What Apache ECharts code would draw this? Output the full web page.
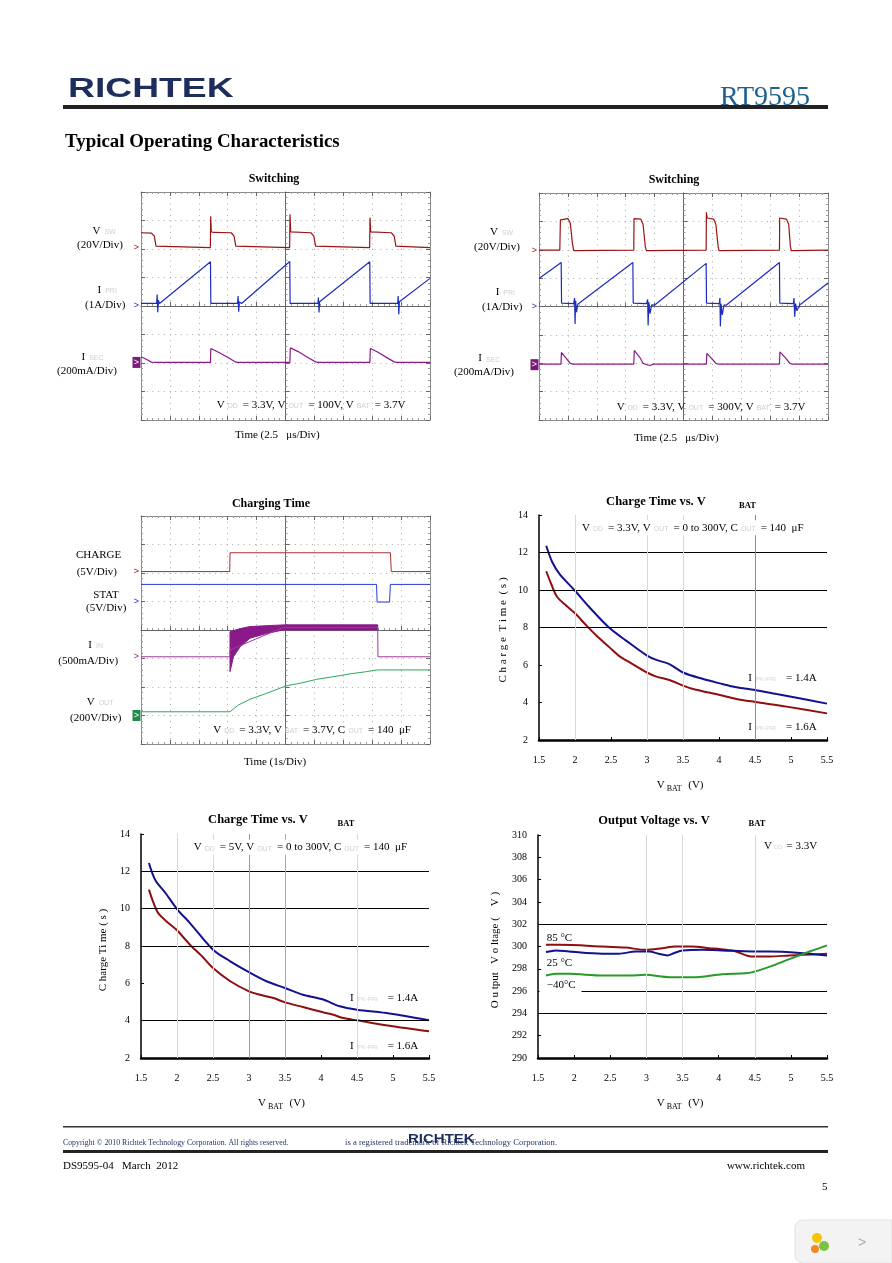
<!DOCTYPE html>
<html><head><meta charset="utf-8">
<script src="https://cdn.jsdelivr.net/npm/echarts@6.0.0/dist/echarts.min.js"></script>
<style>html,body{margin:0;padding:0;background:#fff}#c{width:892px;height:1263px}</style>
</head><body><div id="c"></div>
<script>
// ================= DATA =================
// Scope 1 "Switching" VOUT=100V : time in us (2.5us/div, centred), value in divisions
const sw1Vsw = [[-12.5,2.57],[-11.6,2.56],[-11.35,2.45],[-11.2,2.1],[-11.1,2.05],[-6.5,2.05],[-6.47,3.15],[-6.42,2.6],[-6.2,2.58],[-4.7,2.57],[-4.45,2.45],[-4.3,2.1],[-4.2,2.04],[0.36,2.05],[0.39,3.22],[0.45,2.6],[2.2,2.57],[2.45,2.45],[2.6,2.1],[2.72,2.04],[7.28,2.05],[7.31,3.1],[7.37,2.6],[9.15,2.57],[9.4,2.45],[9.55,2.1],[9.65,2.04],[12.5,2.05]];
const sw1Ipri = [[-12.5,0.09],[-11.15,0.09],[-11.1,0.4],[-11.05,-0.22],[-11.0,0.2],[-10.9,0.09],[-6.49,1.55],[-6.46,0.09],[-4.15,0.09],[-4.1,0.35],[-4.05,-0.2],[-4.0,0.15],[-3.8,0.09],[0.37,1.56],[0.4,0.09],[2.8,0.09],[2.85,0.3],[2.9,-0.23],[2.95,0.15],[3.05,0.09],[7.29,1.55],[7.32,0.09],[9.7,0.09],[9.75,0.35],[9.8,-0.29],[9.85,0.15],[10.0,0.09],[12.5,0.97]];
const sw1Isec = [[-12.5,-1.78],[-12.0,-1.88],[-11.6,-1.97],[-11.2,-1.98],[-6.49,-1.98],[-6.46,-1.49],[-5.8,-1.62],[-5.0,-1.8],[-4.4,-1.95],[-4.2,-1.98],[0.38,-1.98],[0.42,-1.47],[1.1,-1.6],[1.9,-1.8],[2.6,-1.96],[2.8,-1.98],[7.3,-1.98],[7.34,-1.49],[8.0,-1.62],[8.8,-1.82],[9.4,-1.96],[9.6,-1.98],[12.5,-1.98]];
const sw1Refs = [2.05, 0.0, -1.98];
// Scope 2 "Switching" VOUT=300V
const sw2Vsw = [[-12.5,1.99],[-10.7,1.99],[-10.65,3.05],[-10.5,3.12],[-10.0,3.1],[-9.8,2.95],[-9.6,2.2],[-9.5,1.97],[-4.3,1.99],[-4.28,3.1],[-3.7,3.08],[-3.5,2.9],[-3.3,2.1],[-3.21,1.97],[1.96,1.99],[1.98,3.32],[2.05,3.12],[2.6,3.08],[2.8,2.9],[3.0,2.1],[3.07,1.97],[8.3,1.99],[8.32,3.12],[8.9,3.08],[9.1,2.9],[9.25,2.1],[9.33,1.97],[12.5,1.99]];
const sw2Ipri = [[-12.5,0.99],[-10.58,1.55],[-10.55,0.12],[-9.5,0.1],[-9.42,0.3],[-9.38,-0.62],[-9.33,0.2],[-9.25,-0.2],[-9.15,0.08],[-8.98,0.05],[-4.38,1.55],[-4.35,0.12],[-3.2,0.1],[-3.1,0.25],[-3.06,-0.67],[-3.0,0.15],[-2.9,-0.25],[-2.75,0.06],[-2.49,0.05],[1.96,1.52],[1.99,0.12],[3.1,0.1],[3.15,0.3],[3.19,-0.7],[3.25,0.1],[3.35,-0.3],[3.5,0.05],[3.71,0.05],[8.3,1.55],[8.33,0.12],[9.5,0.1],[9.56,0.3],[9.62,-0.36],[9.7,0.1],[9.8,-0.15],[10.05,0.05],[12.5,0.83]];
const sw2Isec = [[-12.5,-2.03],[-10.6,-2.03],[-10.56,-1.62],[-10.2,-1.8],[-9.8,-2.0],[-9.6,-2.03],[-4.3,-2.03],[-4.26,-1.55],[-3.8,-1.78],[-3.5,-2.0],[-3.2,-2.05],[-2.9,-2.08],[-2.6,-2.03],[1.98,-2.03],[2.02,-1.65],[2.4,-1.82],[2.8,-2.0],[3.0,-2.03],[8.3,-2.03],[8.34,-1.6],[8.8,-1.8],[9.2,-2.0],[9.4,-2.03],[12.5,-2.03]];
const sw2Refs = [1.99, 0.0, -2.05];
// Charging Time scope: time in s (1 s/div, centred), value in divisions
const chgCharge = [[-5,2.05],[-1.93,2.05],[-1.92,2.71],[3.63,2.71],[3.66,2.05],[5,2.05]];
const chgStat = [[-5,1.6],[3.15,1.6],[3.17,0.98],[3.6,0.98],[3.63,1.6],[5,1.6]];
const chgIinLine = [[-5,-0.94],[-1.92,-0.94],[-1.92,-0.7],[-0.08,0.09],[3.19,0.09],[3.2,-0.94],[5,-0.94]];
const chgIinUpper = [[-1.92,-0.06],[-1.6,0.04],[-1.23,0.12],[-0.5,0.16],[0,0.18],[3.19,0.18]];
const chgIinLower = [[-1.92,-1.46],[-1.8,-0.94],[-1.57,-0.59],[-1.23,-0.29],[-0.65,-0.12],[-0.08,0.0],[3.19,0.0]];
const chgVout = [[-5,-2.87],[-1.92,-2.87],[-1.63,-2.63],[-1.23,-2.43],[-0.65,-2.22],[0.02,-1.96],[0.5,-1.87],[1.08,-1.73],[1.65,-1.64],[2.23,-1.54],[2.81,-1.46],[3.19,-1.4],[5,-1.4]];
const chgRefs = [2.05, 1.0, -0.94, -3.0];
// Charge Time vs VBAT (VDD=3.3V) : [VBAT (V), time (s)]
const ctA14 = [[1.6,12.36],[1.685,11.48],[1.787,10.85],[2.0,9.96],[2.2,9.08],[2.48,7.97],[2.71,7.3],[3.0,6.5],[3.13,6.27],[3.31,6.05],[3.5,5.6],[3.78,5.25],[4.01,5.02],[4.24,4.81],[4.5,4.67],[4.8,4.45],[5.17,4.19],[5.5,3.94]];
const ctA16 = [[1.6,11.0],[1.67,10.32],[1.75,9.64],[1.88,9.16],[2.0,8.76],[2.16,8.1],[2.3,7.56],[2.48,6.94],[2.62,6.46],[2.76,6.14],[3.0,5.6],[3.13,5.38],[3.31,5.2],[3.5,4.9],[3.64,4.72],[4.01,4.4],[4.24,4.19],[4.5,4.03],[4.94,3.78],[5.5,3.42]];
const ctAHLines = [8, 10, 12];
const ctAVLines = [2, 3, 3.5, 4.5];
// Charge Time vs VBAT (VDD=5V)
const ctB14 = [[1.61,12.45],[1.7,11.52],[1.84,10.84],[2.0,9.98],[2.18,9.23],[2.5,7.8],[2.74,7.18],[3.0,6.6],[3.25,6.1],[3.5,5.75],[3.75,5.39],[4.03,5.13],[4.26,4.77],[4.5,4.59],[4.95,4.38],[5.5,4.02]];
const ctB16 = [[1.61,11.02],[1.675,10.3],[1.745,9.73],[1.88,9.23],[2.0,8.84],[2.18,8.07],[2.37,7.36],[2.5,6.82],[2.74,6.11],[3.0,5.57],[3.15,5.39],[3.34,5.21],[3.5,4.98],[3.75,4.73],[4.03,4.45],[4.17,4.32],[4.31,4.14],[4.5,4.02],[4.95,3.73],[5.5,3.43]];
const ctBHLines = [4, 8, 10, 12];
const ctBVLines = [2, 2.5, 3, 3.5, 4.5];
// Output Voltage vs VBAT : [VBAT (V), VOUT (V)]
const ov85 = [[1.61,300.15],[1.79,300.15],[2.39,300.0],[2.71,299.9],[2.99,299.7],[3.22,299.85],[3.4,300.0],[3.63,300.0],[3.87,299.85],[4.1,299.7],[4.24,299.55],[4.45,299.1],[4.71,299.1],[4.98,299.2],[5.16,299.25],[5.5,299.35]];
const ov25 = [[1.61,299.5],[1.75,299.65],[1.93,299.55],[2.39,299.35],[2.62,299.35],[2.85,299.55],[3.04,299.55],[3.17,299.35],[3.29,299.2],[3.38,299.4],[3.5,299.65],[3.78,299.7],[4.05,299.65],[4.47,299.55],[4.71,299.55],[5.17,299.4],[5.5,299.2]];
const ovM40 = [[1.61,297.4],[1.75,297.55],[1.93,297.55],[2.39,297.4],[2.76,297.4],[2.99,297.46],[3.32,297.25],[3.69,297.25],[4.05,297.52],[4.37,297.6],[4.47,297.7],[4.71,298.2],[4.98,298.87],[5.26,299.55],[5.5,300.1]];
const ovHLines = [294, 296, 302];
const ovVLines = [3, 3.5, 4.5];

// ================= STYLE / LAYOUT =================
const SERIF = '"Liberation Serif","Times New Roman",serif';
const SANS = '"Liberation Sans",Arial,sans-serif';
const RED = '#9a1414', BLUE = '#1c2cc0', PURPLE = '#8a1a8a', GREEN = '#1f9a55';
const XRED = '#8e0f0f', XBLUE = '#12128e', XGREEN = '#279a27';
const ctAVShades = ['#d8d8d8','#d8d8d8','#d8d8d8','#8a8a8a'];
const ctBVShades = ['#d8d8d8','#d8d8d8','#9a9a9a','#aaaaaa','#d8d8d8'];
const ovVShades = ['#d8d8d8','#d8d8d8','#d8d8d8'];

const grids = [
  {left:141, top:192, width:289, height:228},
  {left:539, top:193, width:289, height:227},
  {left:141, top:516, width:289, height:228},
  {left:539, top:515, width:288, height:225},
  {left:141, top:834, width:288, height:224},
  {left:538, top:835, width:289, height:223}
];
const xAxes = [], yAxes = [], series = [];

function scopeAxes(g, xr, xint, yr) {
  const GRAY = '#8c8c8c';
  const xi = xAxes.length, yi = yAxes.length;
  const base = (mn, mx, iv) => ({type:'value', gridIndex:g, min:mn, max:mx, interval:iv, silent:true,
    axisLabel:{show:false}, splitLine:{show:false}, minorSplitLine:{show:false},
    axisTick:{show:true, inside:true, length:4, lineStyle:{color:'#666', width:1}},
    minorTick:{show:true, splitNumber:5, length:2, lineStyle:{color:'#9a9a9a', width:1}}});
  xAxes.push(Object.assign(base(xr[0],xr[1],xint), {position:'bottom', axisLine:{show:true,onZero:false,lineStyle:{color:GRAY}},
    splitLine:{show:true, lineStyle:{color:'#a8a8a8', width:1, type:[1,4.7]}}}));
  xAxes.push(Object.assign(base(xr[0],xr[1],xint), {position:'top', axisLine:{show:true,onZero:false,lineStyle:{color:GRAY}}}));
  xAxes.push(Object.assign(base(xr[0],xr[1],xint), {position:'bottom', axisLine:{show:true,onZero:true,onZeroAxisIndex:yi,lineStyle:{color:'#666'}}}));
  yAxes.push(Object.assign(base(yr[0],yr[1],1), {position:'left', axisLine:{show:true,onZero:false,lineStyle:{color:GRAY}},
    splitLine:{show:true, lineStyle:{color:'#a8a8a8', width:1, type:[1,4.7]}}}));
  yAxes.push(Object.assign(base(yr[0],yr[1],1), {position:'right', axisLine:{show:true,onZero:false,lineStyle:{color:GRAY}}}));
  yAxes.push(Object.assign(base(yr[0],yr[1],1), {position:'left', axisLine:{show:true,onZero:true,onZeroAxisIndex:xi,lineStyle:{color:'#666'}}}));
  return {xi, yi};
}
function xyAxes(g, yr, yint) {
  const xi = xAxes.length, yi = yAxes.length;
  xAxes.push({type:'value', gridIndex:g, min:1.5, max:5.5, interval:0.5, position:'bottom', silent:true,
    axisLine:{onZero:false, lineStyle:{color:'#000', width:2.5}},
    axisTick:{show:true, inside:true, length:3, lineStyle:{color:'#000', width:1}},
    axisLabel:{color:'#000', fontFamily:SERIF, fontSize:10, margin:15},
    splitLine:{show:false}});
  yAxes.push({type:'value', gridIndex:g, min:yr[0], max:yr[1], interval:yint, position:'left', silent:true,
    axisLine:{onZero:false, lineStyle:{color:'#000', width:1.5}},
    axisTick:{show:true, inside:true, length:3, lineStyle:{color:'#000'}},
    axisLabel:{color:'#000', fontFamily:SERIF, fontSize:10, margin:11},
    splitLine:{show:false}});
  return {xi, yi};
}
function line(ax, data, color, width, extra) {
  series.push(Object.assign({type:'line', xAxisIndex:ax.xi, yAxisIndex:ax.yi, data, symbol:'none', showSymbol:false,
    lineStyle:{color, width}, itemStyle:{color}, animation:false, silent:true, z:3}, extra || {}));
}
function gridLines(ax, hLines, vLines, vShades) {
  series.push({type:'line', xAxisIndex:ax.xi, yAxisIndex:ax.yi, data:[], symbol:'none', silent:true, animation:false, z:1,
    markLine:{silent:true, symbol:['none','none'], animation:false, label:{show:false},
      data: hLines.map(v => ({yAxis:v, lineStyle:{color:'#000', width:1, type:'solid'}}))
        .concat(vLines.map((v,i) => ({xAxis:v, lineStyle:{color:vShades[i], width:1, type:'solid'}})))}});
}

const s1 = scopeAxes(0, [-12.5,12.5], 2.5, [-4,4]);
const s2 = scopeAxes(1, [-12.5,12.5], 2.5, [-4,4]);
const s3 = scopeAxes(2, [-5,5], 1, [-4,4]);
const cA = xyAxes(3, [2,14], 2);
const cB = xyAxes(4, [2,14], 2);
const cO = xyAxes(5, [290,310], 2);

line(s1, sw1Vsw, RED, 1.2); line(s1, sw1Ipri, BLUE, 1.2); line(s1, sw1Isec, PURPLE, 1.2);
line(s2, sw2Vsw, RED, 1.2); line(s2, sw2Ipri, BLUE, 1.2); line(s2, sw2Isec, PURPLE, 1.2);
line(s3, chgCharge, '#a83030', 1); line(s3, chgStat, '#2a3ad0', 1);
series.push({type:'custom', xAxisIndex:s3.xi, yAxisIndex:s3.yi, data:[[0,0]], silent:true, animation:false, z:3,
  renderItem: (params, api) => {
    const pts = chgIinUpper.map(p => api.coord(p)).concat(chgIinLower.slice().reverse().map(p => api.coord(p)));
    return {type:'polygon', shape:{points:pts}, style:{fill:PURPLE, stroke:PURPLE, lineWidth:1}};
  }});
line(s3, chgIinLine, '#9a3a9a', 1); line(s3, chgVout, '#2aa860', 1);

gridLines(cA, ctAHLines, ctAVLines, ctAVShades);
line(cA, ctA14, XBLUE, 2, {smooth:0.3}); line(cA, ctA16, XRED, 2, {smooth:0.3});
gridLines(cB, ctBHLines, ctBVLines, ctBVShades);
line(cB, ctB14, XBLUE, 2, {smooth:0.3}); line(cB, ctB16, XRED, 2, {smooth:0.3});
gridLines(cO, ovHLines, ovVLines, ovVShades);
line(cO, ov85, XRED, 2, {smooth:0.3}); line(cO, ov25, XBLUE, 2, {smooth:0.3}); line(cO, ovM40, XGREEN, 2, {smooth:0.3});

const chart = echarts.init(document.getElementById('c'), null, {renderer:'canvas', width:892, height:1263});
chart.setOption({backgroundColor:'#fff', animation:false, grid:grids, xAxis:xAxes, yAxis:yAxes, series});

// ================= TEXT / DECORATION =================
function T(x, y, text, o) {
  o = o || {};
  const st = {text, fill:o.fill || '#000', fontSize:o.size || 11, fontFamily:o.family || SERIF, fontWeight:o.weight || 'normal',
    align:o.align || 'left', textAlign:o.align || 'left', verticalAlign:'middle', textVerticalAlign:'middle'};
  if (o.rich) st.rich = o.rich;
  if (o.bg) { st.backgroundColor = o.bg; st.padding = o.pad || [1,2]; }
  return {type:'text', z:50, x, y, rotation:o.rot || 0, scaleX:o.sx || 1, style:st};
}
const SUB = {n:{fontSize:11, fontFamily:SERIF, fill:'#000'}, g:{fontSize:7, fontFamily:SANS, fill:'#cfcfcf', padding:[3,5,0,3]}};
const SUBL = {n:{fontSize:11, fontFamily:SERIF, fill:'#000'}, g:{fontSize:7, fontFamily:SANS, fill:'#cfcfcf', padding:[3,0,0,4]}};
const AX = {a:{fontSize:11, fontFamily:SERIF, fill:'#000'}, b:{fontSize:8, fontFamily:SERIF, fill:'#000', padding:[8,1,0,2]}};
const PK = {n:SUB.n, g:{fontSize:6, fontFamily:SANS, fill:'#d5d5d5', padding:[3,10,0,4]}};

const G = [];
// header
G.push(T(68, 90, 'RICHTEK', {size:27, family:SANS, weight:'bold', fill:'#1c2d5e', sx:1.38}));
G.push(T(720, 98, 'RT9595', {size:28, fill:'#1f5f8e'}));
G.push({type:'rect', z:40, shape:{x:63, y:105, width:765, height:4}, style:{fill:'#222'}});
G.push(T(65, 142, 'Typical Operating Characteristics', {size:18, weight:'bold', sx:1.05}));

// scope 1
G.push(T(274, 179, 'Switching', {size:12, weight:'bold', align:'center'}));
G.push(T(92.5, 231, '{n|V}{g|SW}', {rich:SUBL}));
G.push(T(77, 245, '(20V/Div)'));
G.push(T(97.5, 290, '{n|I}{g|PRI}', {rich:SUBL}));
G.push(T(85, 305, '(1A/Div)'));
G.push(T(81.5, 356.7, '{n|I}{g|SEC}', {rich:SUBL}));
G.push(T(57, 370.7, '(200mA/Div)'));
G.push(T(216.7, 405, '{n|V}{g|DD}{n|= 3.3V, V}{g|OUT}{n|= 100V, V}{g|BAT}{n|= 3.7V}', {rich:SUB}));
G.push(T(235, 435, 'Time (2.5   μs/Div)'));
// scope 2
G.push(T(674, 180, 'Switching', {size:12, weight:'bold', align:'center'}));
G.push(T(490, 231.7, '{n|V}{g|SW}', {rich:SUBL}));
G.push(T(474, 246.7, '(20V/Div)'));
G.push(T(495.7, 291.7, '{n|I}{g|PRI}', {rich:SUBL}));
G.push(T(482, 306.7, '(1A/Div)'));
G.push(T(478.3, 358.3, '{n|I}{g|SEC}', {rich:SUBL}));
G.push(T(454, 372.3, '(200mA/Div)'));
G.push(T(616.7, 407, '{n|V}{g|DD}{n|= 3.3V, V}{g|OUT}{n|= 300V, V}{g|BAT}{n|= 3.7V}', {rich:SUB}));
G.push(T(634, 437.7, 'Time (2.5   μs/Div)'));
// charging
G.push(T(271, 504, 'Charging Time', {size:12, weight:'bold', align:'center'}));
G.push(T(76, 555, 'CHARGE'));
G.push(T(76.7, 571.7, '(5V/Div)'));
G.push(T(93.3, 595, 'STAT'));
G.push(T(86, 608.3, '(5V/Div)'));
G.push(T(88.3, 645, '{n|I}{g|IN}', {rich:SUBL}));
G.push(T(58.3, 660.7, '(500mA/Div)'));
G.push(T(86.7, 701.7, '{n|V}{g|OUT}', {rich:SUBL}));
G.push(T(70, 718.3, '(200V/Div)'));
G.push(T(213.3, 730, '{n|V}{g|DD}{n|= 3.3V, V}{g|BAT}{n|= 3.7V, C}{g|OUT}{n|= 140  μF}', {rich:SUB}));
G.push(T(244, 761.7, 'Time (1s/Div)'));
// charge time A
G.push(T(656, 502, 'Charge Time vs. V', {size:12.5, weight:'bold', align:'center'}));
G.push(T(747.5, 505.5, 'BAT', {size:8.5, weight:'bold', align:'center'}));
G.push(T(580, 527.7, '{n|V}{g|DD}{n|= 3.3V, V}{g|OUT}{n|= 0 to 300V, C}{g|OUT}{n|= 140  μF}', {rich:SUB, bg:'#fff', pad:[2,2]}));
G.push(T(748.3, 678.3, '{n|I}{g|PK-PRI}{n|= 1.4A}', {rich:PK}));
G.push(T(748.3, 726.7, '{n|I}{g|PK-PRI}{n|= 1.6A}', {rich:PK}));
G.push(T(503.3, 630, 'C h a r g e  T i m e  ( s )', {align:'center', rot:Math.PI/2}));
G.push(T(656.7, 785, '{a|V}{b|BAT}{a|  (V)}', {rich:AX}));
// charge time B
G.push(T(258, 820, 'Charge Time vs. V', {size:12.5, weight:'bold', align:'center'}));
G.push(T(346, 824, 'BAT', {size:8.5, weight:'bold', align:'center'}));
G.push(T(191.7, 847.3, '{n|V}{g|DD}{n|= 5V, V}{g|OUT}{n|= 0 to 300V, C}{g|OUT}{n|= 140  μF}', {rich:SUB, bg:'#fff', pad:[2,2]}));
G.push(T(350, 998.3, '{n|I}{g|PK-PRI}{n|= 1.4A}', {rich:PK}));
G.push(T(350, 1046, '{n|I}{g|PK-PRI}{n|= 1.6A}', {rich:PK}));
G.push(T(103.3, 950, 'C harge Ti me ( s )', {align:'center', rot:Math.PI/2}));
G.push(T(258, 1103.3, '{a|V}{b|BAT}{a|  (V)}', {rich:AX}));
// output voltage
G.push(T(654, 821, 'Output Voltage vs. V', {size:12.5, weight:'bold', align:'center'}));
G.push(T(757, 824, 'BAT', {size:8.5, weight:'bold', align:'center'}));
G.push(T(764, 846, '{n|V}{g|DD}{n|= 3.3V}', {rich:{n:SUB.n, g:{fontSize:6, fontFamily:SANS, fill:'#d5d5d5', padding:[3,4,0,2]}}}));
G.push({type:'rect', z:45, shape:{x:539.5, y:989, width:42, height:5}, style:{fill:'#fff'}});
G.push(T(546.7, 938.3, '85 °C'));
G.push(T(546.7, 962.7, '25 °C'));
G.push(T(546.7, 985, '−40°C'));
G.push(T(495, 950, 'O u tput   V o ltage (    V )', {align:'center', rot:Math.PI/2}));
G.push(T(656.7, 1103.3, '{a|V}{b|BAT}{a|  (V)}', {rich:AX}));

// reference markers at the left edge of the scope screens (placed through the chart scales)
function refMarks(ax, refs, colors, boxes, xmin) {
  refs.forEach((v, i) => {
    const p = chart.convertToPixel({xAxisIndex:ax.xi, yAxisIndex:ax.yi}, [xmin, v]);
    if (boxes[i]) {
      G.push({type:'rect', z:50, shape:{x:p[0]-8.5, y:p[1]-5.5, width:8, height:11}, style:{fill:colors[i]}});
      G.push(T(p[0]-4.5, p[1], '>', {size:9, family:SANS, fill:'#fff', align:'center'}));
    } else {
      G.push(T(p[0]-4.5, p[1], '>', {size:9, family:SANS, fill:colors[i], align:'center'}));
    }
  });
}
refMarks(s1, sw1Refs, [RED, BLUE, '#7a1a7a'], [false, false, true], -12.5);
refMarks(s2, sw2Refs, [RED, BLUE, '#7a1a7a'], [false, false, true], -12.5);
refMarks(s3, chgRefs, [RED, BLUE, PURPLE, '#1f8a4a'], [false, false, false, true], -5);

// footer
G.push({type:'rect', z:40, shape:{x:63, y:1126, width:765, height:1.5}, style:{fill:'#333'}});
G.push(T(63, 1143, 'Copyright © 2010 Richtek Technology Corporation. All rights reserved.', {size:7.5, fill:'#1c2d5e', sx:1.04}));
G.push(T(345, 1143, 'is a registered trademark of Richtek Technology Corporation.', {size:7.5, fill:'#1c2d5e', sx:1.15}));
G.push(T(408, 1140, 'RICHTEK', {size:12, family:SANS, weight:'bold', fill:'#1c2d5e', sx:1.25}));
G.push({type:'rect', z:40, shape:{x:63, y:1150, width:765, height:3}, style:{fill:'#222'}});
G.push(T(63, 1166, 'DS9595-04   March  2012', {size:11}));
G.push(T(805, 1166, 'www.richtek.com', {size:11, align:'right'}));
G.push(T(822, 1187, '5', {size:11}));
// viewer widget
G.push({type:'rect', z:40, shape:{x:795, y:1220, width:97, height:43, r:[8,0,0,8]}, style:{fill:'#f3f3f3', stroke:'#e2e2e2'}});
G.push({type:'circle', z:41, shape:{cx:817, cy:1238, r:5}, style:{fill:'#f6c400'}});
G.push({type:'circle', z:41, shape:{cx:824, cy:1246, r:5}, style:{fill:'#7ac043'}});
G.push({type:'circle', z:41, shape:{cx:815, cy:1249, r:4}, style:{fill:'#f08a24'}});
G.push(T(862, 1243, '>', {size:14, family:SANS, fill:'#aaa', align:'center'}));

chart.setOption({graphic: G});
</script></body></html>
